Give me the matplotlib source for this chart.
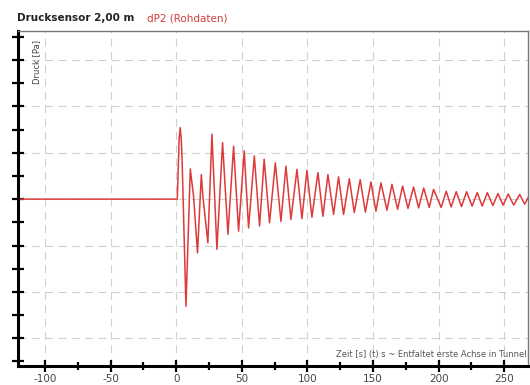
import numpy as np
import matplotlib.pyplot as plt
from matplotlib.ticker import MultipleLocator

plt.rcParams['axes.unicode_minus'] = False

# Zeitpunkte (s) und Druckwerte (Rohdaten) - Extrema
t = [-121, 0.8, 2.2, 3.0, 3.8, 4.5, 7.4, 10.7, 13.2, 16.2, 19.1, 20.3, 24.1,
     27.2, 31.0, 35.3, 39.4, 43.7, 47.5, 51.8, 55.1, 59.5, 63.5, 67.0, 71.1,
     75.5, 79.8, 83.6, 87.4, 92.0, 95.8, 99.6, 103.4, 108.0, 111.8, 115.6, 119.9,
     123.7, 127.5, 131.9, 135.7, 140.2, 144.1, 148.4, 152.2, 156.0, 160.6,
     164.4, 168.7, 172.5, 176.6, 180.9, 184.7, 188.6, 192.8, 196.1, 201.9,
     205.8, 209.5, 213.4, 217.4, 221.3, 225.5, 229.4, 233.2, 237.1, 241.3,
     245.2, 249.1, 253.0, 257.2, 261.7, 265.6, 269.6]
dp2 = [0, 0, 1.30, 1.54, 1.30, 0.80, -2.31, 0.65, 0.06, -1.16, 0.53, 0.06, -0.94,
       1.40, -1.08, 1.22, -0.76, 1.14, -0.69, 1.04, -0.62, 0.93, -0.58, 0.86, -0.51,
       0.78, -0.48, 0.71, -0.44, 0.64, -0.42, 0.62, -0.39, 0.57, -0.37, 0.53, -0.33,
       0.48, -0.33, 0.44, -0.29, 0.42, -0.28, 0.37, -0.26, 0.35, -0.24,
       0.32, -0.22, 0.28, -0.20, 0.26, -0.19, 0.24, -0.18, 0.21, -0.18,
       0.17, -0.17, 0.16, -0.16, 0.16, -0.15, 0.14, -0.15, 0.14, -0.14,
       0.12, -0.13, 0.11, -0.13, 0.10, -0.11, 0.11]

fig = plt.figure(figsize=(5.3, 3.85), dpi=100)
ax = fig.add_axes([0.034, 0.049, 0.962, 0.870])

ax.plot(t, dp2, color='#dd3a3a', lw=1.1, solid_joinstyle='round')

ax.set_xlim(-120.6, 268)
ax.set_ylim(-3.6, 3.62)

# Achsen
ax.xaxis.set_major_locator(MultipleLocator(50))
ax.xaxis.set_minor_locator(MultipleLocator(25))
ax.yaxis.set_major_locator(MultipleLocator(0.5))
ax.set_yticklabels([])
ax.tick_params(axis='x', which='major', direction='inout', length=9, width=1.6,
               colors='black', labelcolor='#444444', labelsize=7.5, pad=1)
ax.tick_params(axis='x', which='minor', direction='inout', length=6, width=1.6, colors='black')
ax.tick_params(axis='y', which='major', direction='inout', length=9, width=1.6,
               colors='black', labelleft=False)

for s in ['left', 'bottom']:
    ax.spines[s].set_linewidth(2.2)
    ax.spines[s].set_color('black')
for s in ['top', 'right']:
    ax.spines[s].set_linewidth(1.0)
    ax.spines[s].set_color('#777777')

# Gitter
for x in np.arange(-100, 251, 50):
    ax.axvline(x, color='#d0d0d0', lw=0.8, ls=(0, (7, 5)), zorder=0)
for y in np.arange(-3, 4, 1):
    ax.axhline(y, color='#d0d0d0', lw=0.8, ls=(0, (7, 5)), zorder=0)

fig.text(0.032, 0.945, 'Drucksensor 2,00 m', fontsize=7.5, fontweight='bold', color='#222222')
fig.text(0.278, 0.945, 'dP2 (Rohdaten)', fontsize=7.5, color='#d43a3a')

ax.text(0.036, 0.975, 'Druck [Pa]', transform=ax.transAxes, rotation=90,
        fontsize=6, color='#444444', ha='center', va='top')
ax.text(0.998, 0.022, 'Zeit [s] (t) s ~ Entfaltet erste Achse in Tunnel',
        transform=ax.transAxes, fontsize=6, color='#555555', ha='right', va='bottom')

fig.savefig('out.png', dpi=100)
